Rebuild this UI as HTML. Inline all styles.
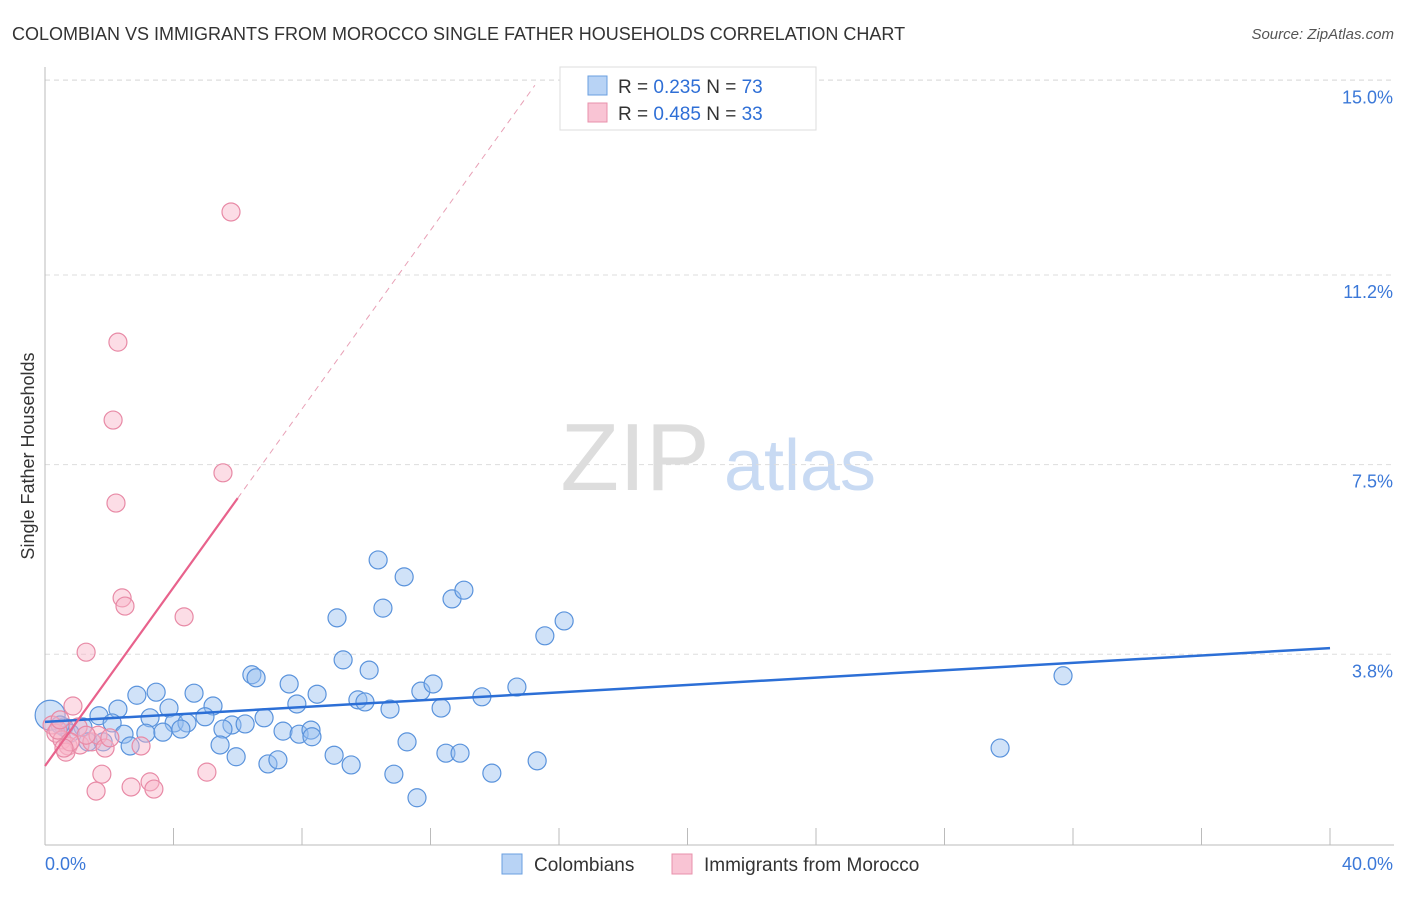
<!DOCTYPE html>
<html><head><meta charset="utf-8"><style>
body{margin:0;background:#fff;font-family:"Liberation Sans",sans-serif;}
svg text{font-family:"Liberation Sans",sans-serif;}
</style></head><body>
<svg width="1406" height="892" id="chart">
<text x="12" y="40" font-size="18" fill="#333">COLOMBIAN VS IMMIGRANTS FROM MOROCCO SINGLE FATHER HOUSEHOLDS CORRELATION CHART</text>
<text x="1394" y="39" font-size="15" fill="#555" text-anchor="end" font-style="italic">Source: ZipAtlas.com</text>
<text x="34" y="456" font-size="18" fill="#333" text-anchor="middle" transform="rotate(-90 34 456)">Single Father Households</text>
<g>
<text x="635" y="490" font-size="96" fill="#ddd" font-family="Liberation Serif" text-anchor="middle">ZIP</text>
<text x="800" y="490" font-size="72" fill="#c8daf3" text-anchor="middle">atlas</text>
</g>
<g id="grid"></g><g id="axes"></g><g id="marks"></g>
<g>
<rect x="560" y="67" width="256" height="63" fill="#fff" stroke="#ddd"/>
<rect x="588" y="76" width="19" height="19" fill="#b8d3f5" stroke="#6a9fe0"/>
<rect x="588" y="103" width="19" height="19" fill="#f9c4d4" stroke="#e891ab"/>
<text x="618" y="93" font-size="19" fill="#333">R = <tspan fill="#2f6fd6">0.235</tspan>   N = <tspan fill="#2f6fd6">73</tspan></text>
<text x="618" y="120" font-size="19" fill="#333">R = <tspan fill="#2f6fd6">0.485</tspan>   N = <tspan fill="#2f6fd6">33</tspan></text>
</g>
<g>
<rect x="502" y="854" width="20" height="20" fill="#b8d3f5" stroke="#6a9fe0"/>
<text x="534" y="871" font-size="19" fill="#333">Colombians</text>
<rect x="672" y="854" width="20" height="20" fill="#f9c4d4" stroke="#e891ab"/>
<text x="704" y="871" font-size="19" fill="#333">Immigrants from Morocco</text>
</g>
</svg>
<script>
const yTicks=[3.8,7.5,11.2,15.0];
const yTickLabels=["3.8%","7.5%","11.2%","15.0%"];
const xTickCount=10;
const blueX=[2.86,3.46,4.64,5.23,3.86,2.27,1.68,3.27,4.98,4.02,4.42,2.09,1.18,0.59,0.78,2.46,3.14,3.67,4.23,5.82,6.23,6.82,6.44,6.57,7.60,8.47,7.84,5.54,7.41,7.91,8.28,8.31,5.45,5.95,6.94,7.25,9.00,9.53,2.65,1.34,1.81,9.74,9.96,10.74,11.70,12.08,12.33,13.60,14.69,11.27,12.48,12.92,10.86,11.58,13.91,15.32,9.28,10.09,9.09,10.52,10.37,11.18,12.67,13.04,15.56,16.16,31.69,29.73,0.16,0.47];
const blueY=[3.00,3.06,3.04,2.79,2.75,2.73,2.60,2.56,2.58,2.46,2.46,2.46,2.38,2.38,2.26,2.24,2.26,2.28,2.34,2.42,2.44,2.56,3.40,3.34,3.22,3.02,2.83,2.34,2.30,2.24,2.32,2.19,2.03,1.80,1.66,1.74,1.83,1.64,2.01,2.09,2.09,2.91,2.87,2.73,3.08,3.22,2.75,2.97,3.16,2.09,1.87,1.87,1.46,1.00,1.48,1.72,3.69,3.49,4.51,4.70,5.64,5.31,4.88,5.05,4.16,4.45,3.38,1.97,2.61,2.42];
const pinkX=[5.79,2.27,2.12,5.54,2.21,2.40,2.49,4.33,1.28,0.87,0.22,0.34,0.53,0.72,0.65,1.09,1.46,1.65,1.87,2.99,1.77,1.59,2.68,3.27,3.39,5.04,1.03,0.40,1.28,0.78,2.02,0.59,0.47];
const pinkY=[12.43,9.89,8.37,7.34,6.75,4.90,4.74,4.53,3.84,2.79,2.42,2.26,2.13,2.01,1.89,2.03,2.09,2.22,1.97,2.01,1.46,1.13,1.21,1.31,1.17,1.50,2.38,2.32,2.22,2.09,2.17,1.97,2.52];
const blueTrend=[2.48,3.92];
const pinkTrend=[1.62,0.871];
const NS="http://www.w3.org/2000/svg";
const sx=v=>45+v*32.125, sy=v=>849-v*51.25;
function mk(tag,attrs,parent){const e=document.createElementNS(NS,tag);for(const k in attrs)e.setAttribute(k,attrs[k]);document.getElementById(parent).appendChild(e);return e;}
let e=mk('line',{x1:45,y1:80,x2:1394,y2:80,stroke:'#ddd','stroke-dasharray':'5,4'},'grid');


yTicks.forEach((t,i)=>{
 const g=mk('line',{x1:45,y1:sy(t),x2:1394,y2:sy(t),stroke:'#ddd','stroke-dasharray':'5,4'},'grid');
 
 
 const l=mk('text',{x:1393,y:sy(t)+23,'font-size':18,fill:'#3b78d8','text-anchor':'end'},'axes');
 l.textContent=yTickLabels[i];
 
 
});
e=mk('line',{x1:45,y1:67,x2:45,y2:845,stroke:'#bbb'},'axes');


e=mk('line',{x1:45,y1:845,x2:1394,y2:845,stroke:'#bbb'},'axes');


for(let i=1;i<=xTickCount;i++){
 const t=mk('line',{x1:sx(i*4),y1:828,x2:sx(i*4),y2:845,stroke:'#bbb'},'axes');
 
 
}
e=mk('text',{x:45,y:870,'font-size':18,fill:'#3b78d8'},'axes');e.textContent='0.0%';


e=mk('text',{x:1393,y:870,'font-size':18,fill:'#3b78d8','text-anchor':'end'},'axes');e.textContent='40.0%';


blueX.forEach((x,i)=>{
 const c=mk('circle',{cx:sx(x),cy:sy(blueY[i]),r:i==68?15:9,fill:'rgba(150,190,240,0.45)',stroke:'#5a93dc','stroke-width':1.2},'marks');
 
 
});
pinkX.forEach((x,i)=>{
 const c=mk('circle',{cx:sx(x),cy:sy(pinkY[i]),r:9,fill:'rgba(248,180,200,0.45)',stroke:'#e88aa6','stroke-width':1.2},'marks');
 
 
});
e=mk('line',{x1:sx(0),y1:sy(blueTrend[0]),x2:sx(40),y2:sy(blueTrend[1]),stroke:'#2c6fd6','stroke-width':2.5},'marks');


e=mk('line',{x1:sx(0),y1:sy(pinkTrend[0]),x2:sx(6),y2:sy(pinkTrend[0]+6*pinkTrend[1]),stroke:'#e8628c','stroke-width':2.2},'marks');


e=mk('line',{x1:sx(6),y1:sy(pinkTrend[0]+6*pinkTrend[1]),x2:sx(15.25),y2:sy(pinkTrend[0]+15.25*pinkTrend[1]),stroke:'#e8a0b6','stroke-width':1,'stroke-dasharray':'6,5'},'marks');


</script>
</body></html>
